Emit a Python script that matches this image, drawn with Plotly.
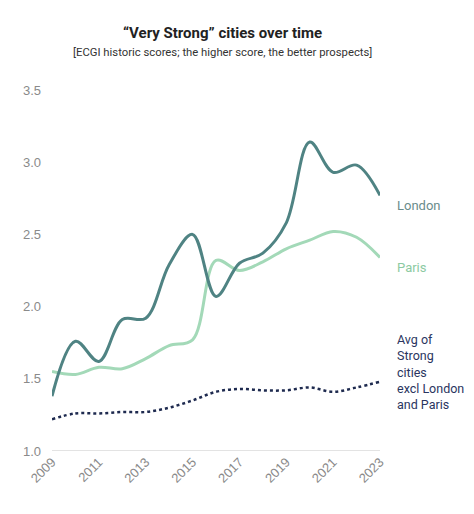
import plotly.graph_objects as go

years = list(range(2009, 2024))
london = [1.38, 1.76, 1.62, 1.91, 1.92, 2.29, 2.50, 2.07, 2.30, 2.37, 2.58, 3.14, 2.93, 2.98, 2.77]
paris = [1.55, 1.53, 1.58, 1.57, 1.64, 1.73, 1.77, 2.32, 2.25, 2.31, 2.40, 2.46, 2.52, 2.48, 2.34]
avg_strong = [1.22, 1.26, 1.26, 1.27, 1.27, 1.30, 1.35, 1.41, 1.43, 1.42, 1.42, 1.44, 1.41, 1.44, 1.48]

y_ticks = [1.0, 1.5, 2.0, 2.5, 3.0, 3.5]
x_ticks = [2009, 2011, 2013, 2015, 2017, 2019, 2021, 2023]

c_london = "#4f8383"
c_paris = "#a3d9b8"
c_avg = "#1e2a4f"

fig = go.Figure()
fig.add_trace(go.Scatter(x=years, y=avg_strong, mode="lines",
                         line=dict(color=c_avg, width=2.5, dash="dot", shape="spline", smoothing=1.0)))
fig.add_trace(go.Scatter(x=years, y=paris, mode="lines",
                         line=dict(color=c_paris, width=3, shape="spline", smoothing=1.0)))
fig.add_trace(go.Scatter(x=years, y=london, mode="lines",
                         line=dict(color=c_london, width=3, shape="spline", smoothing=1.0)))

ann = [
    dict(x=2023, y=2.70, xref="x", yref="y", text="London", xshift=15, xanchor="left",
         showarrow=False, font=dict(family="Roboto", size=13, color="#6a8c8c")),
    dict(x=2023, y=2.27, xref="x", yref="y", text="Paris", xshift=15, xanchor="left",
         showarrow=False, font=dict(family="Roboto", size=13, color="#8ccaa2")),
    dict(x=2023, y=1.55, xref="x", yref="y", text="Avg of<br>Strong<br>cities<br>excl London<br>and Paris",
         xshift=15, xanchor="left", align="left", showarrow=False,
         font=dict(family="Roboto", size=12.5, color="#2a3560")),
    dict(x=0.52, y=1.188, xref="paper", yref="paper", text="<b>“Very Strong” cities over time</b>",
         showarrow=False, font=dict(family="Roboto", size=15, color="#222222")),
    dict(x=0.52, y=1.127, xref="paper", yref="paper",
         text="[ECGI historic scores; the higher score, the better prospects]",
         showarrow=False, font=dict(family="Roboto", size=11.3, color="#333333")),
]

fig.update_layout(
    width=474, height=514,
    margin=dict(l=44, r=102, t=82, b=71),
    paper_bgcolor="white", plot_bgcolor="white",
    showlegend=False,
    annotations=ann,
    xaxis=dict(range=[2009, 2023], tickvals=x_ticks, ticktext=[str(v) for v in x_ticks],
               tickangle=-45, showgrid=False, zeroline=False,
               showline=False, ticks="",
               tickfont=dict(family="Liberation Sans", size=13, color="#8a8a8a")),
    yaxis=dict(range=[1.0, 3.5], tickvals=y_ticks, ticktext=[f"{v:.1f}" for v in y_ticks],
               showgrid=False, zeroline=False, showline=False, ticks="",
               ticklabelstandoff=10,
               tickfont=dict(family="Liberation Sans", size=13, color="#8a8a8a")),
    shapes=[dict(type="line", xref="x", yref="y", x0=2009, x1=2023, y0=1.0, y1=1.0,
                 line=dict(color="#e3e3e3", width=2), layer="below")],
)

fig.write_html("out.html")
